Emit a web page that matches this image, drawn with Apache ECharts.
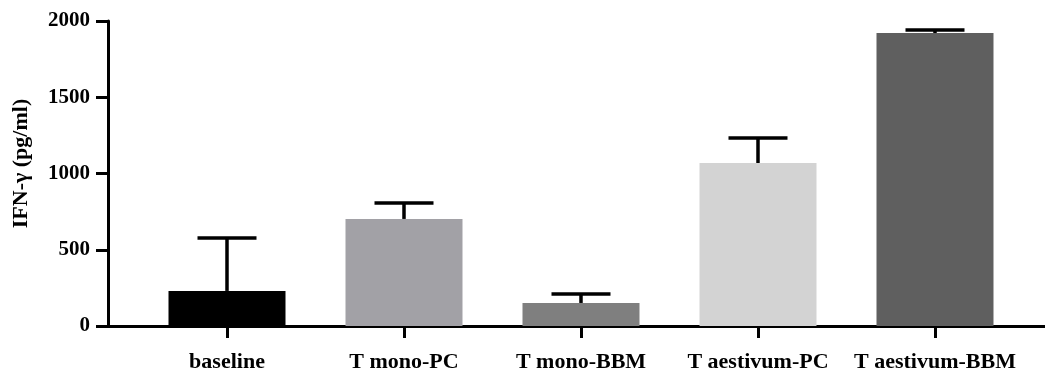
<!DOCTYPE html>
<html>
<head>
<meta charset="utf-8">
<script src="https://cdn.jsdelivr.net/npm/echarts@6/dist/echarts.min.js"></script>
<style>
html,body{margin:0;padding:0;background:#fff;}
#chart{width:1045px;height:374px;}
</style>
</head>
<body>
<div id="chart"></div>
<script>
const categories = ['baseline', 'T mono-PC', 'T mono-BBM', 'T aestivum-PC', 'T aestivum-BBM'];
const means = [230, 702, 151, 1069, 1921];
const errors = [347, 105, 59, 164, 20];
const yTicks = [0, 500, 1000, 1500, 2000];
const barColors = ['#000000', '#a2a1a6', '#7f7f7f', '#d3d3d3', '#5f5f5f'];

const font = '"Liberation Serif", "Times New Roman", serif';
const chart = echarts.init(document.getElementById('chart'), null, {renderer: 'canvas'});
const idx = categories.map((c, i) => i);

chart.setOption({
  animation: false,
  backgroundColor: '#ffffff',
  grid: {left: 108, right: 0, top: 21, bottom: 48, containLabel: false},
  xAxis: {
    type: 'value',
    min: -0.6723,
    max: 4.6215,
    splitLine: {show: false},
    axisLine: {show: true, onZero: false, lineStyle: {color: '#000', width: 3}},
    axisTick: {show: true, length: 12, lineStyle: {color: '#000', width: 3}, customValues: idx},
    axisLabel: {
      customValues: idx,
      formatter: v => categories[Math.round(v)] || '',
      fontFamily: font, fontWeight: 'bold', fontSize: 22, color: '#000', margin: 25
    }
  },
  yAxis: {
    type: 'value',
    min: 0, max: 2000, interval: 500,
    splitLine: {show: false},
    axisLine: {show: true, onZero: false, lineStyle: {color: '#000', width: 3}},
    axisTick: {show: true, length: 12, lineStyle: {color: '#000', width: 3}},
    axisLabel: {
      customValues: yTicks,
      formatter: v => String(v),
      fontFamily: font, fontWeight: 'bold', fontSize: 21, color: '#000', margin: 18
    },
    name: 'IFN-γ (pg/ml)',
    nameLocation: 'middle',
    nameGap: 76,
    nameTextStyle: {fontFamily: font, fontWeight: 'bold', fontSize: 22, color: '#000', padding: [0, 0, 0, 20]}
  },
  series: [
    {
      type: 'bar',
      barWidth: 117,
      data: means.map((v, i) => ({value: [i, v], itemStyle: {color: barColors[i]}})),
      z: 2
    },
    {
      type: 'custom',
      z: 3,
      data: means.map((v, i) => [i, v, v + errors[i]]),
      renderItem: function (params, api) {
        const x = api.value(0);
        const base = api.coord([x, api.value(1)]);
        const top = api.coord([x, api.value(2)]);
        const half = 29.5;
        const style = {stroke: '#000', lineWidth: 3.5, fill: null};
        return {
          type: 'group',
          children: [
            {type: 'line', shape: {x1: base[0], y1: base[1], x2: top[0], y2: top[1]}, style: style},
            {type: 'line', shape: {x1: top[0] - half, y1: top[1], x2: top[0] + half, y2: top[1]}, style: style}
          ]
        };
      }
    }
  ]
});
</script>
</body>
</html>
